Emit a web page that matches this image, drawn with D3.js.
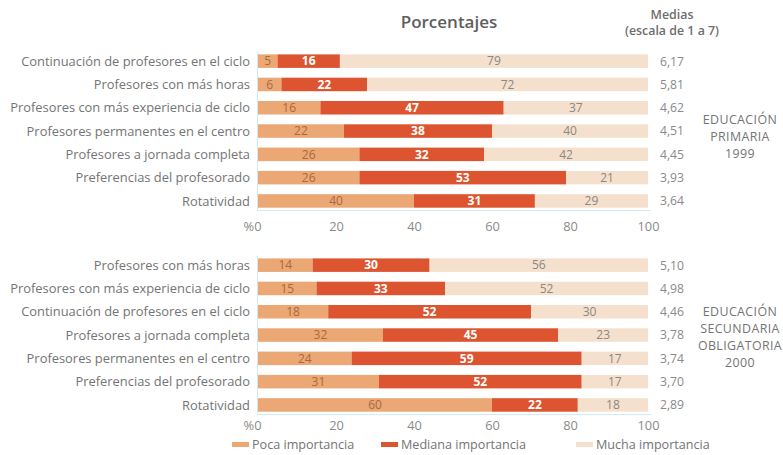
<!DOCTYPE html>
<html>
<head>
<meta charset="utf-8">
<script src="https://cdn.jsdelivr.net/npm/d3@7"></script>
<style>
  html, body { margin: 0; padding: 0; background: #ffffff; }
  svg { display: block; font-family: "Open Sans", "Noto Sans", sans-serif; }
</style>
</head>
<body>
<svg id="chart" width="783" height="455"></svg>
<script>
// Educación Primaria 1999
const categoriesPrimaria = [
  "Continuación de profesores en el ciclo",
  "Profesores con más horas",
  "Profesores con más experiencia de ciclo",
  "Profesores permanentes en el centro",
  "Profesores a jornada completa",
  "Preferencias del profesorado",
  "Rotatividad"
];
const pocaPrimaria    = [5, 6, 16, 22, 26, 26, 40];
const medianaPrimaria = [16, 22, 47, 38, 32, 53, 31];
const muchaPrimaria   = [79, 72, 37, 40, 42, 21, 29];
const mediasPrimaria  = [6.17, 5.81, 4.62, 4.51, 4.45, 3.93, 3.64];

// Educación Secundaria Obligatoria 2000
const categoriesSecundaria = [
  "Profesores con más horas",
  "Profesores con más experiencia de ciclo",
  "Continuación de profesores en el ciclo",
  "Profesores a jornada completa",
  "Profesores permanentes en el centro",
  "Preferencias del profesorado",
  "Rotatividad"
];
const pocaSecundaria    = [14, 15, 18, 32, 24, 31, 60];
const medianaSecundaria = [30, 33, 52, 45, 59, 52, 22];
const muchaSecundaria   = [56, 52, 30, 23, 17, 17, 18];
const mediasSecundaria  = [5.10, 4.98, 4.46, 3.78, 3.74, 3.70, 2.89];

const tickValues = [0, 20, 40, 60, 80, 100];
const tickLabels = ["%0", "20", "40", "60", "80", "100"];
const seriesNames = ["Poca importancia", "Mediana importancia", "Mucha importancia"];
const groupLabelsPrimaria = ["EDUCACIÓN", "PRIMARIA", "1999"];
const groupLabelsSecundaria = ["EDUCACIÓN", "SECUNDARIA", "OBLIGATORIA", "2000"];

const colors = ["#eba774", "#dc5530", "#f4e0cc"];
const valueColors = ["#a9693f", "#ffffff", "#8c8783"];
const greyText = "#747474";

const svg = d3.select("#chart");
const x = d3.scaleLinear().domain([0, 100]).range([258, 648]);
const fmtMedia = d => d.toFixed(2).replace(".", ",");

function drawPanel(cfg) {
  const rows = cfg.categories.map((c, i) => ({
    cat: c,
    poca: cfg.poca[i], mediana: cfg.mediana[i], mucha: cfg.mucha[i],
    media: cfg.medias[i]
  }));
  const stack = d3.stack().keys(["poca", "mediana", "mucha"])(rows);

  const y = d3.scaleBand()
    .domain(cfg.categories)
    .range([cfg.top, cfg.top + cfg.step * cfg.categories.length])
    .paddingInner(0.42)
    .paddingOuter(0.21);

  const g = svg.append("g");

  // light frame: left edge and baseline
  const frameTop = cfg.top + 2;
  const frameBottom = cfg.top + cfg.step * cfg.categories.length - 2;
  g.append("path")
    .attr("d", `M${x(0) - 0.5},${frameTop}V${frameBottom}H${x(100) + 3}`)
    .attr("fill", "none")
    .attr("stroke", "#d6e7f0")
    .attr("stroke-width", 1);

  stack.forEach((layer, k) => {
    const lg = g.append("g");
    lg.selectAll("rect")
      .data(layer)
      .join("rect")
      .attr("x", d => x(d[0]))
      .attr("width", d => x(d[1]) - x(d[0]))
      .attr("y", d => y(d.data.cat))
      .attr("height", y.bandwidth())
      .attr("fill", colors[k]);
    lg.selectAll("text")
      .data(layer)
      .join("text")
      .attr("x", d => x((d[0] + d[1]) / 2))
      .attr("y", d => y(d.data.cat) + y.bandwidth() / 2)
      .attr("dy", "0.36em")
      .attr("text-anchor", "middle")
      .attr("font-size", 12)
      .attr("font-weight", k === 1 ? 700 : 400)
      .attr("fill", valueColors[k])
      .text(d => d[1] - d[0]);
  });

  // category labels
  g.selectAll("text.cat")
    .data(rows)
    .join("text")
    .attr("class", "cat")
    .attr("x", 250)
    .attr("y", d => y(d.cat) + y.bandwidth() / 2)
    .attr("dy", "0.36em")
    .attr("text-anchor", "end")
    .attr("font-size", 12.9)
    .attr("fill", greyText)
    .text(d => d.cat);

  // means
  g.selectAll("text.media")
    .data(rows)
    .join("text")
    .attr("class", "media")
    .attr("x", 660)
    .attr("y", d => y(d.cat) + y.bandwidth() / 2)
    .attr("dy", "0.36em")
    .attr("font-size", 12.2)
    .attr("fill", "#8a8a8a")
    .text(d => fmtMedia(d.media));

  // axis
  const axis = d3.axisBottom(x)
    .tickValues(tickValues)
    .tickSize(0)
    .tickPadding(0)
    .tickFormat((d, i) => tickLabels[i]);
  const ag = g.append("g")
    .attr("transform", `translate(0,${cfg.axisY})`)
    .call(axis);
  ag.select(".domain").remove();
  ag.selectAll("text")
    .attr("font-family", "'Open Sans', sans-serif")
    .attr("font-size", 12.8)
    .attr("fill", "#8a8a8a")
    .attr("dy", "0.36em")
    .attr("dx", (d, i) => i === 0 ? -6 : 0);

  // group label
  g.append("text")
    .attr("text-anchor", "middle")
    .attr("font-size", 12.4)
    .attr("letter-spacing", 0.4)
    .attr("fill", greyText)
    .selectAll("tspan")
    .data(cfg.groupLabels)
    .join("tspan")
    .attr("x", 740)
    .attr("y", (d, i) => cfg.groupY + i * cfg.groupStep)
    .attr("dy", "0.36em")
    .text(d => d);
}

// headers
svg.append("text")
  .attr("x", 449).attr("y", 22).attr("dy", "0.36em")
  .attr("text-anchor", "middle")
  .attr("font-size", 17).attr("font-weight", 600)
  .attr("fill", "#5e5e5e")
  .text("Porcentajes");
svg.append("text")
  .attr("text-anchor", "middle")
  .attr("font-size", 12.4).attr("font-weight", 600)
  .attr("fill", "#6e6e6e")
  .selectAll("tspan")
  .data(["Medias", "(escala de 1 a 7)"])
  .join("tspan")
  .attr("x", 672)
  .attr("y", (d, i) => 15 + i * 16)
  .attr("dy", "0.36em")
  .text(d => d);

drawPanel({
  categories: categoriesPrimaria,
  poca: pocaPrimaria, mediana: medianaPrimaria, mucha: muchaPrimaria,
  medias: mediasPrimaria,
  top: 49.5, step: 23.3, axisY: 226,
  groupLabels: groupLabelsPrimaria, groupY: 120, groupStep: 17
});
drawPanel({
  categories: categoriesSecundaria,
  poca: pocaSecundaria, mediana: medianaSecundaria, mucha: muchaSecundaria,
  medias: mediasSecundaria,
  top: 253.5, step: 23.3, axisY: 425,
  groupLabels: groupLabelsSecundaria, groupY: 312, groupStep: 17
});

// legend
const legendX = [232, 381, 576];
const lg = svg.append("g").attr("transform", "translate(0,444.5)");
const items = lg.selectAll("g")
  .data(seriesNames)
  .join("g")
  .attr("transform", (d, i) => `translate(${legendX[i]},0)`);
items.append("rect")
  .attr("x", 0).attr("y", -2.5)
  .attr("width", 17).attr("height", 5)
  .attr("fill", (d, i) => colors[i]);
items.append("text")
  .attr("x", 20).attr("dy", "0.36em")
  .attr("font-size", 12.6)
  .attr("fill", greyText)
  .text(d => d);
</script>
</body>
</html>
